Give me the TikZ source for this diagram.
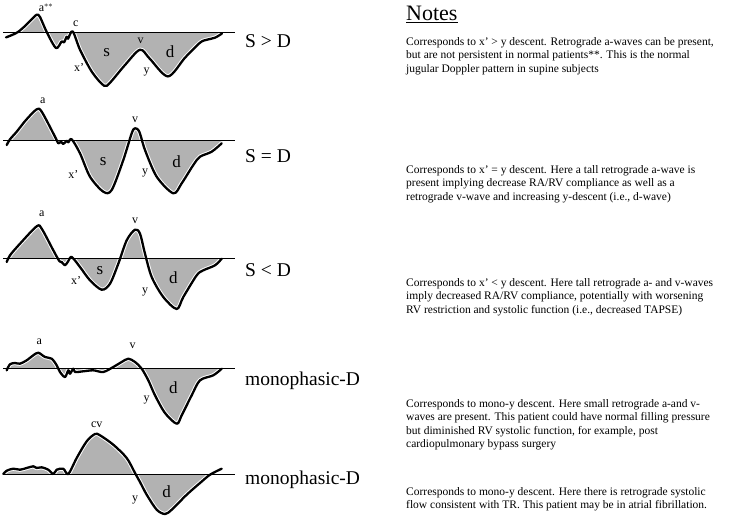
\documentclass[tikz,border=0pt]{standalone}
\usepackage{fontspec}
\setmainfont{Liberation Serif}
\usetikzlibrary{positioning}

\tikzset{
  wavefill/.style={fill=black!30},
  wavehalo/.style={draw=white,line width=4.2pt,line join=round,line cap=round},
  waveline/.style={draw=black,line width=2.3pt,line join=round,line cap=round},
  zeroline/.style={draw=black,line width=0.8pt},
  peak/.style={font=\fontsize{12}{14}\selectfont,inner sep=0pt},
  area/.style={font=\fontsize{17}{18}\selectfont,inner sep=0pt},
  kind/.style={font=\fontsize{19.5}{21}\selectfont,anchor=west,inner sep=0pt},
  note/.style={font=\fontsize{11.5}{13.6}\selectfont,anchor=north west,align=left,inner sep=0pt},
}

\newcommand{\waveSgtD}{plot[smooth,tension=0.5] coordinates {(6,5.4) (12,3) (18,0) (25,-6) (31,-12) (36.7,-17.3) (40,-15) (46.7,0) (56,16) (61.7,9.4) (64,10.4) (66.7,4.7) (68,6.7) (72.7,-0.6) (80,17.7) (92,40) (104,53.7) (110,50.7) (125,33) (140,17.7) (150,27) (168,44.4) (185,25.7) (200,10.7) (207,7.7) (215,5.7) (222,1.5)}}
\newcommand{\waveSeqD}{plot[smooth,tension=0.5] coordinates {(6.7,5) (10,-0.7) (16.7,-8.3) (26,-20) (36.7,-30.7) (41.7,-28.3) (55,-3.3) (58.3,3.3) (61,1.7) (63.3,4) (66.7,0.7) (68.3,2.3) (71.7,-0.7) (80,13.3) (90,36.7) (103.3,51.7) (111.7,50) (123.3,20) (131.7,-6.7) (135,-11.7) (139.3,-8.3) (145,10) (156.7,36.7) (173.3,53.3) (181.7,43.3) (193.3,25) (200,16.7) (211.7,11.7) (221.7,3.3)}}
\newcommand{\waveSltD}{plot[smooth,tension=0.5] coordinates {(6.7,4) (10,-2.7) (20,-14.3) (36.7,-31.7) (41.7,-29.3) (53.3,-7.7) (59.3,3) (61.7,4) (65,7.3) (68.3,3) (71.7,-1) (80,9) (90,22.3) (101.7,31.7) (110,25.7) (118.3,5.7) (126.7,-17.7) (135,-28.3) (140,-24.3) (145,-4.3) (151.7,19) (163.3,39) (176.7,51) (183.3,39) (196.7,17.3) (203.3,12.3) (215,7.3) (221.7,0.7)}}
\newcommand{\waveMonoA}{plot[smooth,tension=0.5] coordinates {(6.7,2.3) (10,-3.7) (15,-5) (20,-4.3) (26.7,-7.7) (33.3,-12.7) (38.3,-15.3) (45,-11) (51.7,-9.3) (56.7,-2.7) (60,4) (65,9) (68.3,2.3) (70,5.7) (73.3,0.7) (75,4) (83.3,3.3) (93.3,2.3) (103.3,4) (113.3,-1) (121.7,-6) (128.3,-9.3) (135,-6) (141.7,0.7) (148.3,12.3) (155,27.3) (165,45) (176.7,55.7) (181.7,47.3) (191.7,27.3) (200,12.3) (213.3,7.3) (221.7,0.7)}}
\newcommand{\waveMonoB}{plot[smooth,tension=0.5] coordinates {(3.3,0) (6.7,-3.3) (13.3,-5.3) (20,-4.3) (26.7,-6) (33.3,-7.7) (36.7,-6) (41.7,-6.7) (48.3,-4.3) (53.3,0) (56.7,-4.3) (63.3,-5.3) (68.3,0) (76.7,-16) (86.7,-32.7) (95,-40) (100,-38.7) (113.3,-29.3) (126.7,-16) (135,-1) (140,8) (146.7,20.7) (156.7,35.7) (165,40) (171.7,35.7) (186.7,20.7) (200,9) (210,0.7) (221.7,-5.3)}}

\begin{document}
\begin{tikzpicture}[x=1pt,y=-1pt]
\useasboundingbox[fill=white] (0,0) rectangle (737,517);

% S > D
\begin{scope}[shift={(0,32)}]
\begin{scope}
\clip (18,-70) rectangle (222,70);
\fill[wavefill] \waveSgtD -- (240,0) -- (0,0) -- (0,5.4) -- cycle;
\end{scope}
\draw[wavehalo] \waveSgtD;
\draw[waveline] \waveSgtD;
\draw[zeroline] (3,0) -- (235,0);
\node[peak] (a1) at (46,-24) {a$^{**}$};
\node[peak] (c1) at (75.7,-8) {c};
\node[area] (s1) at (106.7,21) {s};
\node[peak] (v1) at (140.7,8.4) {v};
\node[area] (d1) at (170,19.4) {d};
\node[peak] (x1) at (79,35.4) {x'};
\node[peak] (y1) at (146.7,40.4) {y};
\end{scope}

% S = D
\begin{scope}[shift={(0,140)}]
\begin{scope}
\clip (10,-70) rectangle (222,70);
\fill[wavefill] \waveSeqD -- (240,0) -- (0,0) -- (0,5) -- cycle;
\end{scope}
\draw[wavehalo] \waveSeqD;
\draw[waveline] \waveSeqD;
\draw[zeroline] (3,0) -- (235,0);
\node[peak] (a2) at (42.7,-39) {a};
\node[area] (s2) at (103.3,21.7) {s};
\node[peak] (v2) at (135,-20) {v};
\node[area] (d2) at (176.7,21.7) {d};
\node[peak] (x2) at (73.3,35) {x'};
\node[peak] (y2) at (145,33.3) {y};
\end{scope}

% S < D
\begin{scope}[shift={(0,258)}]
\begin{scope}
\clip (9,-70) rectangle (222,70);
\fill[wavefill] \waveSltD -- (240,0) -- (0,0) -- (0,4) -- cycle;
\end{scope}
\draw[wavehalo] \waveSltD;
\draw[waveline] \waveSltD;
\draw[zeroline] (3,0) -- (235,0);
\node[peak] (a3) at (41.7,-44) {a};
\node[area] (s3) at (100,12.3) {s};
\node[peak] (v3) at (135,-37.5) {v};
\node[area] (d3) at (173.3,19.7) {d};
\node[peak] (x3) at (76,22.3) {x'};
\node[peak] (y3) at (145,34) {y};
\end{scope}

% monophasic, small a and v
\begin{scope}[shift={(0,368)}]
\begin{scope}
\clip (8.5,-70) rectangle (222,70);
\fill[wavefill] \waveMonoA -- (240,0) -- (0,0) -- (0,2.3) -- cycle;
\end{scope}
\draw[wavehalo] \waveMonoA;
\draw[waveline] \waveMonoA;
\draw[zeroline] (3,0) -- (235,0);
\node[peak] (a4) at (39.3,-26) {a};
\node[peak] (v4) at (132.7,-22.7) {v};
\node[area] (d4) at (173.3,19.7) {d};
\node[peak] (y4) at (146.7,32.3) {y};
\end{scope}

% monophasic, cv wave
\begin{scope}[shift={(0,474)}]
\begin{scope}
\clip (3,-70) rectangle (210.5,70);
\fill[wavefill] \waveMonoB -- (240,0) -- cycle;
\end{scope}
\draw[wavehalo] \waveMonoB;
\draw[waveline] \waveMonoB;
\draw[zeroline] (3,0) -- (235,0);
\node[peak] (cv5) at (96.7,-49.3) {cv};
\node[area] (d5) at (166.7,17.3) {d};
\node[peak] (y5) at (135,25.7) {y};
\end{scope}

\node[kind] (kind1) at (245,41) {S > D};
\node[kind] (kind2) at (245,156) {S = D};
\node[kind] (kind3) at (245,270) {S < D};
\node[kind] (kind4) at (245,381) {monophasic-D};
\node[kind] (kind5) at (245,480) {monophasic-D};

\node[font=\fontsize{22}{24}\selectfont,anchor=west,inner sep=0pt] (notes) at (406,14) {\underline{Notes}};
\node[note] (note1) at (406,37) {Corresponds to x' > y descent. Retrograde a-waves can be present,\\but are not persistent in normal patients**. This is the normal\\jugular Doppler pattern in supine subjects};
\node[note] (note2) at (406,165) {Corresponds to x' = y descent. Here a tall retrograde a-wave is\\present implying decrease RA/RV compliance as well as a\\retrograde v-wave and increasing y-descent (i.e., d-wave)};
\node[note] (note3) at (406,278) {Corresponds to x' < y descent. Here tall retrograde a- and v-waves\\imply decreased RA/RV compliance, potentially with worsening\\RV restriction and systolic function (i.e., decreased TAPSE)};
\node[note] (note4) at (406,399) {Corresponds to mono-y descent. Here small retrograde a-and v-\\waves are present. This patient could have normal filling pressure\\but diminished RV systolic function, for example, post\\cardiopulmonary bypass surgery};
\node[note] (note5) at (406,487) {Corresponds to mono-y descent. Here there is retrograde systolic\\flow consistent with TR. This patient may be in atrial fibrillation.};

\end{tikzpicture}
\end{document}
